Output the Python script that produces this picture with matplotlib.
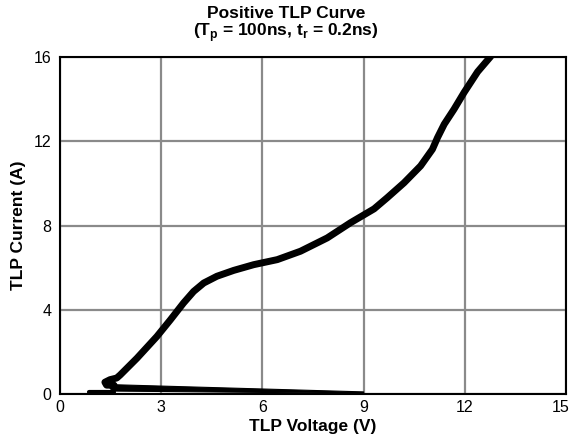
import matplotlib
matplotlib.use("Agg")
import matplotlib.pyplot as plt
from matplotlib.transforms import ScaledTranslation

plt.rcParams['font.family'] = ['Liberation Sans', 'DejaVu Sans']
plt.rcParams['mathtext.fontset'] = 'custom'
plt.rcParams['mathtext.rm'] = 'Liberation Sans'
plt.rcParams['mathtext.bf'] = 'Liberation Sans:bold'

# Main TLP curve (voltage V, current A)
curve_v = [1.60, 1.38, 1.33, 1.48, 1.68, 1.78, 2.28, 2.87, 3.27, 3.66, 3.96, 4.26, 4.65,
           5.15, 5.74, 6.44, 7.13, 7.92, 8.61, 9.31, 9.70, 10.20, 10.69, 11.04, 11.19,
           11.39, 11.68, 11.98, 12.38, 12.77]
curve_i = [0.42, 0.42, 0.56, 0.68, 0.76, 0.90, 1.70, 2.73, 3.52, 4.32, 4.87, 5.27, 5.59,
           5.87, 6.14, 6.38, 6.78, 7.41, 8.13, 8.79, 9.32, 10.03, 10.83, 11.62, 12.17,
           12.81, 13.52, 14.32, 15.30, 16.03]

# Low-current snapback region (wedge back from 9 V)
wedge_v = [1.40, 9.0, 9.0, 1.55]
wedge_i = [0.45, 0.10, 0.03, 0.14]
base_v = [0.85, 1.60]
base_i = [0.08, 0.08]

xticks = [0, 3, 6, 9, 12, 15]
yticks = [0, 4, 8, 12, 16]

fig = plt.figure(figsize=(5.72, 4.44), dpi=100)
ax = fig.add_axes([0.105, 0.1126, 0.8845, 0.759])

ax.set_xlim(0, 15)
ax.set_ylim(0, 16)
ax.set_xticks(xticks)
ax.set_yticks(yticks)
ax.tick_params(length=0, labelsize=11.5, pad=4)
ax.tick_params(axis='y', pad=6)
ax.grid(True, color='#8a8a8a', linewidth=1.6)
ax.set_axisbelow(True)
for s in ax.spines.values():
    s.set_linewidth(1.5)
    s.set_color('black')

ax.fill(wedge_v, wedge_i, color='black', linewidth=0.8, zorder=3)
ax.plot(base_v, base_i, color='black', linewidth=3, solid_capstyle='round', zorder=3)
ax.plot(curve_v, curve_i, color='black', linewidth=5, solid_capstyle='round',
        solid_joinstyle='round', zorder=4)

ax.set_xlabel('TLP Voltage (V)', fontsize=12.5, fontweight='bold', labelpad=3)
ax.set_ylabel('TLP Current (A)', fontsize=12.5, fontweight='bold', labelpad=6)

lbl = ax.get_xticklabels()[-1]
lbl.set_transform(lbl.get_transform() + ScaledTranslation(-5 / 100, 0, fig.dpi_scale_trans))

fig.text(0.5, 0.970, 'Positive TLP Curve', ha='center', va='center', fontsize=12.5, fontweight='bold')
fig.text(0.5, 0.927, r'(T$_\mathbf{p}$ = 100ns, t$_\mathbf{r}$ = 0.2ns)', ha='center', va='center',
         fontsize=12.5, fontweight='bold')

fig.savefig('out.png', dpi=100)
